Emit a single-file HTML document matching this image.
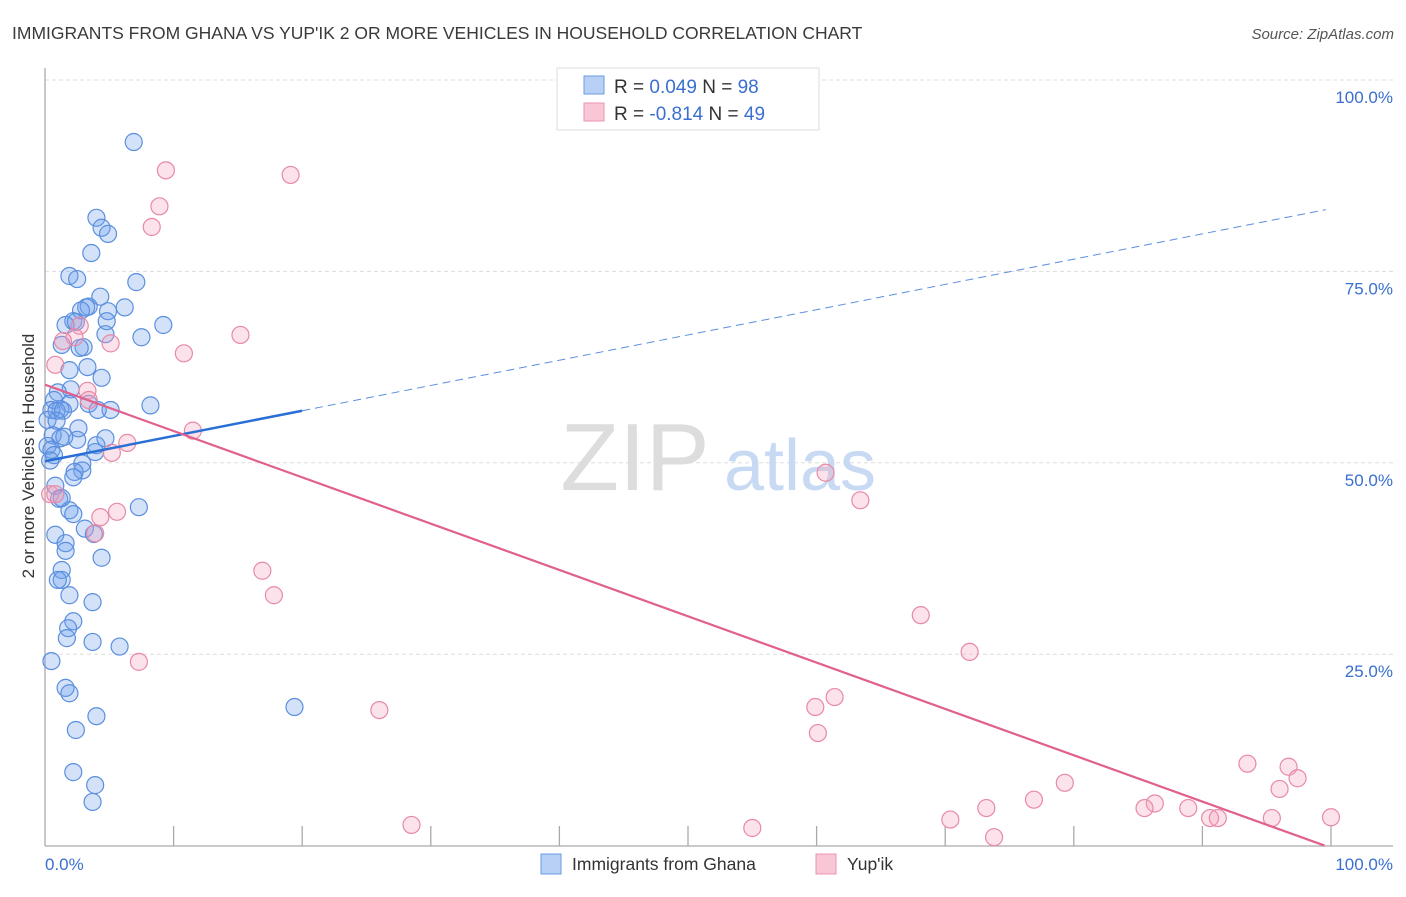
<!DOCTYPE html>
<html><head><meta charset="utf-8"><style>
body{margin:0;background:#fff;font-family:"Liberation Sans",sans-serif;}
svg text{font-family:"Liberation Sans",sans-serif;}
</style></head><body>
<svg id="chart" width="1406" height="892" viewBox="0 0 1406 892" xmlns="http://www.w3.org/2000/svg">
<text x="12" y="39" font-size="17.5" fill="#3a3a3a">IMMIGRANTS FROM GHANA VS YUP'IK 2 OR MORE VEHICLES IN HOUSEHOLD CORRELATION CHART</text>
<text x="1394" y="39" font-size="15" fill="#555" text-anchor="end" font-style="italic">Source: ZipAtlas.com</text>
<g id="grid"></g>
<g>
<text x="635" y="490" font-size="96" fill="#ddd" font-family="Liberation Serif" text-anchor="middle">ZIP</text>
<text x="800" y="490" font-size="72" fill="#c8daf3" text-anchor="middle">atlas</text>
</g>
<line x1="45" y1="68" x2="45" y2="846" stroke="#aaa" stroke-width="1.3"/>
<line x1="45" y1="846" x2="1393" y2="846" stroke="#aaa" stroke-width="1.3"/>
<g id="xticks"></g>
<text transform="translate(34,456) rotate(-90)" font-size="17" fill="#333" text-anchor="middle">2 or more Vehicles in Household</text>
<text x="45" y="870" font-size="17" fill="#3a6fd0">0.0%</text>
<text x="1393" y="870" font-size="17" fill="#3a6fd0" text-anchor="end">100.0%</text>
<g id="pts"></g>
<g id="lines"></g>
<g>
<rect x="557" y="68" width="262" height="62" fill="#fff" stroke="#ddd"/>
<rect x="584" y="76" width="20" height="18" fill="#b8d0f5" stroke="#6a9be0"/>
<rect x="584" y="103" width="20" height="18" fill="#f9c6d5" stroke="#e994ae"/>
<text x="614" y="93" font-size="19" fill="#333">R = <tspan fill="#3a6fd0">0.049</tspan>   N = <tspan fill="#3a6fd0">98</tspan></text>
<text x="614" y="120" font-size="19" fill="#333">R = <tspan fill="#3a6fd0">-0.814</tspan>   N = <tspan fill="#3a6fd0">49</tspan></text>
</g>
<g>
<rect x="541" y="854" width="20" height="20" fill="#b8d0f5" stroke="#6a9be0"/>
<text x="572" y="870" font-size="17.5" fill="#333">Immigrants from Ghana</text>
<rect x="816" y="854" width="20" height="20" fill="#f9c6d5" stroke="#e994ae"/>
<text x="847" y="870" font-size="17.5" fill="#333">Yup'ik</text>
</g>
</svg>
<script>
const yTicks=[25,50,75,100];
const yTickLabels=["25.0%","50.0%","75.0%","100.0%"];
const xTicks=[10,20,30,40,50,60,70,80,90,100];
const blueX=[6.9,4.0,4.4,4.9,3.6,1.9,2.5,7.1,4.3,3.4,3.2,6.2,2.8,4.9,4.8,2.2,1.6,2.4,9.2,7.5,4.7,1.3,3.0,2.7,3.3,1.9,4.4,2.0,1.0,0.7,8.2,3.4,1.9,5.1,4.1,1.2,0.5,0.9,1.4,0.2,0.9,2.6,0.6,1.2,2.5,1.5,0.2,0.5,0.7,4.0,4.7,3.9,0.4,2.9,2.9,2.3,2.2,0.8,1.1,7.3,1.9,2.2,1.3,3.1,3.8,0.8,1.6,1.6,4.4,1.3,1.3,1.0,1.9,3.7,2.2,1.8,1.7,3.7,5.8,0.5,1.6,1.9,19.4,4.0,2.4,2.2,3.9,3.7];
const blueY=[91.9,82.0,80.7,79.9,77.4,74.4,74.0,73.6,71.7,70.4,70.3,70.3,69.9,69.8,68.5,68.5,68.0,68.4,68.0,66.4,66.8,65.4,65.1,65.0,62.5,62.1,61.1,59.6,59.2,58.2,57.5,57.7,57.7,56.9,56.9,57.0,56.9,56.8,56.8,55.6,55.5,54.5,53.6,53.2,53.0,53.4,52.2,51.7,51.0,52.3,53.2,51.4,50.3,49.9,49.0,48.8,48.1,47.0,45.3,44.2,43.8,43.3,45.4,41.4,40.7,40.6,39.5,38.5,37.6,36.0,34.7,34.7,32.7,31.8,29.3,28.4,27.1,26.6,26.0,24.1,20.6,19.9,18.1,16.9,15.1,9.6,7.9,5.7];
const pinkX=[9.4,19.1,8.9,8.3,15.2,2.7,2.3,5.1,1.4,10.8,0.8,3.3,3.4,11.5,6.4,5.2,60.7,63.4,0.4,0.8,5.6,4.3,3.9,16.9,17.8,68.1,7.3,71.9,26.0,59.9,61.4,60.1,28.5,55.0,79.3,76.9,93.5,96.7,97.4,96.0,86.3,85.5,88.9,73.2,70.4,73.8,90.6,91.2,95.4,100.0];
const pinkY=[88.2,87.6,83.5,80.8,66.7,67.9,66.4,65.6,65.9,64.3,62.8,59.4,58.2,54.2,52.6,51.3,48.7,45.1,45.9,45.9,43.6,42.9,40.8,35.9,32.7,30.1,24.0,25.3,17.7,18.1,19.4,14.7,2.7,2.3,8.2,6.0,10.7,10.3,8.8,7.4,5.5,4.9,4.9,4.9,3.4,1.1,3.6,3.6,3.6,3.7];
const blueTrend=[50.2,0.33];
const pinkTrend=[60.2,-0.605];
const NS="http://www.w3.org/2000/svg";
const sx=v=>45+v*12.86;
const sy=v=>845.6-v*7.656;
function mk(tag,attrs,parent){const e=document.createElementNS(NS,tag);for(const k in attrs)e.setAttribute(k,attrs[k]);parent.appendChild(e);return e;}
const grid=document.getElementById('grid');
yTicks.forEach((t,i)=>{
 const l=mk('line',{x1:45,x2:1393,y1:sy(t),y2:sy(t),stroke:'#ddd','stroke-dasharray':'4,3'},grid);
 
 
 const tx=mk('text',{x:1393,y:sy(t)+23,'font-size':17,fill:'#3a6fd0','text-anchor':'end'},grid);
 tx.textContent=yTickLabels[i];
 
 
});
const xt=document.getElementById('xticks');
xTicks.forEach(t=>{
 const l=mk('line',{x1:sx(t),x2:sx(t),y1:826,y2:846,stroke:'#aaa','stroke-width':1.3},xt);
 
 
});
const pts=document.getElementById('pts');
blueX.forEach((x,i)=>{
 const c=mk('circle',{cx:sx(x),cy:sy(blueY[i]),r:8.5,fill:'rgba(110,160,235,0.3)',stroke:'#5b8fde','stroke-width':1.2},pts);
 
 
});
pinkX.forEach((x,i)=>{
 const c=mk('circle',{cx:sx(x),cy:sy(pinkY[i]),r:8.5,fill:'rgba(245,160,185,0.3)',stroke:'#e889a6','stroke-width':1.2},pts);
 
 
});
const lines=document.getElementById('lines');
const bf=x=>blueTrend[0]+blueTrend[1]*x, pf=x=>pinkTrend[0]+pinkTrend[1]*x;
const b1=mk('line',{x1:sx(0),y1:sy(bf(0)),x2:sx(20),y2:sy(bf(20)),stroke:'#2a6fd6','stroke-width':2.5},lines);


const b2=mk('line',{x1:sx(20),y1:sy(bf(20)),x2:sx(99.6),y2:sy(bf(99.6)),stroke:'#5b8fde','stroke-width':1,'stroke-dasharray':'8,5'},lines);


const p1=mk('line',{x1:sx(0),y1:sy(pf(0)),x2:sx(99.5),y2:sy(pf(99.5)),stroke:'#e0608e','stroke-width':2.2},lines);


</script>
</body></html>
